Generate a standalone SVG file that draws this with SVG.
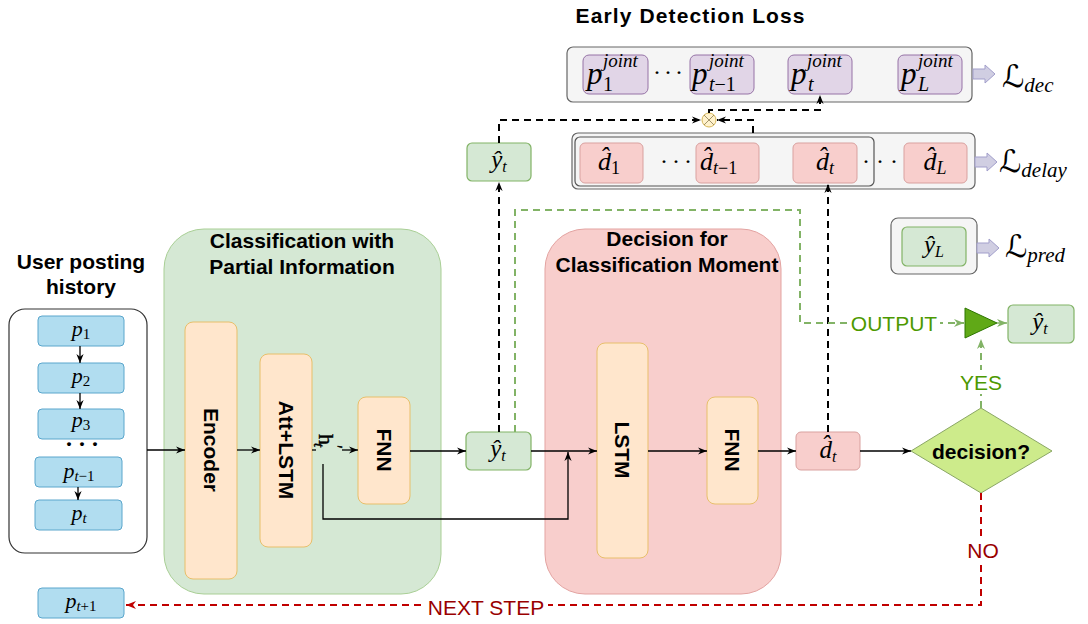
<svg xmlns="http://www.w3.org/2000/svg" width="1088" height="624" viewBox="0 0 1088 624">
  <defs>
    <style>
      .ttl{font-family:"Liberation Sans",Arial,Helvetica,sans-serif;font-weight:bold;font-size:21px;fill:#000;text-anchor:middle}
      .blk{font-family:"Liberation Sans",Arial,Helvetica,sans-serif;font-weight:bold;font-size:21px;fill:#000;text-anchor:middle;dominant-baseline:central}
      .math{font-family:"Liberation Serif","Times New Roman",serif;font-style:italic;fill:#000}
      .mc{text-anchor:middle}
      .rm{font-style:normal}
      .cal{font-family:"DejaVu Serif","DejaVu Sans",serif;font-style:normal}
      .dots{font-family:"Liberation Serif",serif;font-size:24px;fill:#000}
      .lbl{font-family:"Liberation Sans",Arial,Helvetica,sans-serif;font-size:21px;text-anchor:middle;dominant-baseline:central}
      .orange{fill:#ffe6cc;stroke:#e8bf6a;stroke-width:1}
      .blue{fill:#b1ddf0;stroke:#5aa6cc;stroke-width:1}
      .green{fill:#d5e8d4;stroke:#82b366;stroke-width:1.2}
      .red{fill:#f8cecc;stroke:#d9a19f;stroke-width:1}
      .purple{fill:#e1d5e7;stroke:#9673a6;stroke-width:1}
      .panel{fill:#f5f5f5;stroke:#666;stroke-width:1.2}
      .solid{fill:none;stroke:#000;stroke-width:1.3}
      .dash{fill:none;stroke:#000;stroke-width:2;stroke-dasharray:7 5}
      .gdash{fill:none;stroke:#82b366;stroke-width:2;stroke-dasharray:7 5}
      .rdash{fill:none;stroke:#c00000;stroke-width:2;stroke-dasharray:7 5}
      .lav{fill:#d0cee2;stroke:#a29fcb;stroke-width:1}
    </style>
    <marker id="ab" viewBox="0 0 10 10" refX="10" refY="5" markerWidth="9" markerHeight="9" markerUnits="userSpaceOnUse" orient="auto">
      <path d="M0,1 L10,5 L0,9 L3,5 Z" fill="#000"/>
    </marker>
    <marker id="ag" viewBox="0 0 10 10" refX="10" refY="5" markerWidth="10" markerHeight="10" markerUnits="userSpaceOnUse" orient="auto">
      <path d="M0,1 L10,5 L0,9 L3,5 Z" fill="#82b366"/>
    </marker>
    <marker id="ar" viewBox="0 0 10 10" refX="10" refY="5" markerWidth="10" markerHeight="10" markerUnits="userSpaceOnUse" orient="auto">
      <path d="M0,1 L10,5 L0,9 L3,5 Z" fill="#c00000"/>
    </marker>
  </defs>

  <rect width="1088" height="624" fill="#fff"/>

  <!-- containers -->
  <g id="panel-classification">
    <rect x="164" y="229" width="277" height="365" rx="40" fill="#d5e8d4" stroke="#a9cf95" stroke-width="1"/>
    <text class="ttl" x="302" y="248">Classification with</text>
    <text class="ttl" x="302" y="274">Partial Information</text>
  </g>
  <g id="panel-decision">
    <rect x="545" y="229" width="236" height="365" rx="40" fill="#f8cecc" stroke="#e3a3a1" stroke-width="1"/>
    <text class="ttl" x="667" y="246">Decision for</text>
    <text class="ttl" x="667" y="272">Classification Moment</text>
  </g>

  <!-- user posting history -->
  <g id="history">
    <text class="ttl" x="81" y="269">User posting</text>
    <text class="ttl" x="81" y="294">history</text>
    <rect x="9" y="309" width="138" height="244" rx="16" fill="#fff" stroke="#333" stroke-width="1.2"/>
    <g id="post-1"><rect class="blue" x="38" y="316" width="86" height="30" rx="4"/>
      <text class="math mc" x="81" y="336" font-size="22">p<tspan class="rm" font-size="15" dy="3">1</tspan></text></g>
    <g id="post-2"><rect class="blue" x="38" y="363" width="86" height="30" rx="4"/>
      <text class="math mc" x="81" y="383" font-size="22">p<tspan class="rm" font-size="15" dy="3">2</tspan></text></g>
    <g id="post-3"><rect class="blue" x="38" y="409" width="86" height="30" rx="4"/>
      <text class="math mc" x="81" y="427" font-size="22">p<tspan class="rm" font-size="15" dy="3">3</tspan></text></g>
    <text class="dots" x="65 78 91" y="452" font-size="14" font-weight="bold">···</text>
    <g id="post-t-1"><rect class="blue" x="35" y="457" width="87" height="30" rx="4"/>
      <text class="math mc" x="79" y="478" font-size="22">p<tspan font-size="15" dy="3">t</tspan><tspan class="rm" font-size="15">−1</tspan></text></g>
    <g id="post-t"><rect class="blue" x="35" y="500" width="87" height="30" rx="4"/>
      <text class="math mc" x="79" y="520" font-size="22">p<tspan font-size="15" dy="3">t</tspan></text></g>
  </g>
  <g id="post-next">
    <rect class="blue" x="38" y="588" width="86" height="30" rx="4"/>
    <text class="math mc" x="81" y="608" font-size="22">p<tspan font-size="15" dy="3">t</tspan><tspan class="rm" font-size="15">+1</tspan></text>
  </g>

  <!-- classification blocks -->
  <g id="encoder">
    <rect class="orange" x="185" y="322" width="52" height="257" rx="8"/>
    <text class="blk" transform="translate(211,450) rotate(90)">Encoder</text>
  </g>
  <g id="att-lstm">
    <rect class="orange" x="260" y="354" width="52" height="193" rx="8"/>
    <text class="blk" transform="translate(286,450) rotate(90)">Att+LSTM</text>
  </g>
  <g id="fnn-1">
    <rect class="orange" x="358" y="397" width="52" height="107" rx="8"/>
    <text class="blk" transform="translate(384,450) rotate(90)">FNN</text>
  </g>
  <g id="hidden-label">
    <text class="math" transform="translate(319,434) rotate(90)" font-size="22" stroke="#000" stroke-width="0.4"><tspan class="rm">h</tspan><tspan class="rm" font-size="18" dx="0" dy="-10">′</tspan><tspan font-size="15" dx="-6" dy="15">t</tspan></text>
  </g>
  <g id="y-hat">
    <rect class="green" x="466" y="432" width="65" height="38" rx="5"/>
    <text class="math mc" x="498" y="457" font-size="25">ŷ<tspan font-size="16" dy="4">t</tspan></text>
  </g>

  <!-- decision blocks -->
  <g id="lstm">
    <rect class="orange" x="597" y="343" width="51" height="215" rx="8"/>
    <text class="blk" transform="translate(622,450) rotate(90)">LSTM</text>
  </g>
  <g id="fnn-2">
    <rect class="orange" x="707" y="397" width="51" height="107" rx="8"/>
    <text class="blk" transform="translate(732,450) rotate(90)">FNN</text>
  </g>
  <g id="d-hat">
    <rect class="red" x="796" y="432" width="64" height="38" rx="5"/>
    <text class="math mc" x="828" y="458" font-size="25">d̂<tspan font-size="16" dy="4">t</tspan></text>
  </g>
  <g id="decision">
    <polygon points="911,451 981,408 1052,451 981,493" fill="#cdeb8b" stroke="#8aa665" stroke-width="1"/>
    <text class="blk" x="981" y="451">decision?</text>
  </g>
  <g id="gate">
    <polygon points="965,308 997,323 965,338" fill="#60a917" stroke="#2d7600" stroke-width="1"/>
  </g>
  <g id="y-hat-out">
    <rect class="green" x="1008" y="305" width="66" height="38" rx="5"/>
    <text class="math mc" x="1040" y="330" font-size="25">ŷ<tspan font-size="16" dy="4">t</tspan></text>
  </g>

  <!-- top: y-hat copy -->
  <g id="y-hat-top">
    <rect class="green" x="467" y="143" width="64" height="38" rx="5"/>
    <text class="math mc" x="499" y="168" font-size="25">ŷ<tspan font-size="16" dy="4">t</tspan></text>
  </g>

  <!-- early detection loss -->
  <g id="loss-title">
    <text class="ttl" x="690" y="23" font-size="22" textLength="229" lengthAdjust="spacing">Early Detection Loss</text>
  </g>
  <g id="loss-dec">
    <rect class="panel" x="567" y="47" width="405" height="55" rx="6"/>
    <g id="pj-1"><rect class="purple" x="583" y="55" width="65" height="39" rx="6"/>
      <text class="math" font-size="31" x="587" y="84">p</text>
      <text class="math" font-size="19" x="603" y="67">joint</text>
      <text class="math rm" font-size="20" x="603" y="91">1</text></g>
    <text class="dots" x="653 664 675" y="80">···</text>
    <g id="pj-t-1"><rect class="purple" x="690" y="55" width="64" height="39" rx="6"/>
      <text class="math" font-size="31" x="692" y="84">p</text>
      <text class="math" font-size="19" x="709" y="67">joint</text>
      <text class="math" font-size="20" x="709" y="91">t<tspan class="rm">−1</tspan></text></g>
    <g id="pj-t"><rect class="purple" x="788" y="55" width="64" height="39" rx="6"/>
      <text class="math" font-size="31" x="791" y="84">p</text>
      <text class="math" font-size="19" x="807" y="67">joint</text>
      <text class="math" font-size="20" x="808" y="91">t</text></g>
    <g id="pj-L"><rect class="purple" x="898" y="55" width="64" height="39" rx="6"/>
      <text class="math" font-size="31" x="901" y="84">p</text>
      <text class="math" font-size="19" x="918" y="67">joint</text>
      <text class="math" font-size="20" x="918" y="91">L</text></g>
    <polygon class="lav" points="973,69 985,69 985,65 995,74 985,83 985,79 973,79"/>
    <text class="math" x="1002" y="87" font-size="31"><tspan class="cal">ℒ</tspan><tspan font-size="21" dy="5">dec</tspan></text>
  </g>

  <g id="loss-delay">
    <rect class="panel" x="572" y="133" width="403" height="56" rx="6"/>
    <rect x="575" y="137" width="299" height="49" rx="5" fill="none" stroke="#555" stroke-width="1.2"/>
    <g id="dh-1"><rect class="red" x="580" y="143" width="63" height="40" rx="5"/>
      <text class="math" x="598" y="170" font-size="26">d̂<tspan class="rm" font-size="18" dy="4">1</tspan></text></g>
    <text class="dots" x="660 672 684" y="169">···</text>
    <g id="dh-t-1"><rect class="red" x="696" y="143" width="63" height="40" rx="5"/>
      <text class="math" x="700" y="170" font-size="26">d̂<tspan font-size="18" dy="4">t</tspan><tspan class="rm" font-size="18">−1</tspan></text></g>
    <g id="dh-t"><rect class="red" x="793" y="143" width="64" height="40" rx="5"/>
      <text class="math mc" x="825" y="170" font-size="26">d̂<tspan font-size="18" dy="4">t</tspan></text></g>
    <text class="dots" x="862 876 890" y="169">···</text>
    <g id="dh-L"><rect class="red" x="904" y="143" width="63" height="40" rx="5"/>
      <text class="math mc" x="935" y="170" font-size="26">d̂<tspan font-size="18" dy="4">L</tspan></text></g>
    <polygon class="lav" points="975,157 987,157 987,153 997,162 987,171 987,167 975,167"/>
    <text class="math" x="999" y="172" font-size="31"><tspan class="cal">ℒ</tspan><tspan font-size="21" dy="5">delay</tspan></text>
  </g>

  <g id="loss-pred">
    <rect class="panel" x="891" y="218" width="86" height="56" rx="7"/>
    <g id="y-hat-L"><rect class="green" x="902" y="227" width="64" height="39" rx="5"/>
      <text class="math mc" x="934" y="253" font-size="25">ŷ<tspan font-size="16" dy="4">L</tspan></text></g>
    <polygon class="lav" points="977,243 989,243 989,239 999,248 989,257 989,253 977,253"/>
    <text class="math" x="1005" y="257" font-size="31"><tspan class="cal">ℒ</tspan><tspan font-size="21" dy="5">pred</tspan></text>
  </g>

  <g id="multiply">
    <circle cx="709" cy="120" r="7" fill="#fff2cc" stroke="#d6b656" stroke-width="1"/>
    <path d="M704,115 L714,125 M714,115 L704,125" stroke="#8a7a50" stroke-width="0.8"/>
  </g>

  <!-- connectors -->
  <g id="connectors">
    <path class="solid" d="M80,346 V363" marker-end="url(#ab)"/>
    <path class="solid" d="M80,393 V409" marker-end="url(#ab)"/>
    <path class="solid" d="M78,487 V500" marker-end="url(#ab)"/>
    <path class="solid" d="M147,450 H185" marker-end="url(#ab)"/>
    <path class="solid" d="M237,450 H260" marker-end="url(#ab)"/>
    <path class="solid" d="M312,450 H316"/>
    <path class="solid" d="M342,450 H358" marker-end="url(#ab)"/>
    <path class="solid" d="M410,451 H466" marker-end="url(#ab)"/>
    <path class="solid" d="M531,451 H597" marker-end="url(#ab)"/>
    <path class="solid" d="M323,464 V519 H568 V452" marker-end="url(#ab)"/>
    <path class="solid" d="M648,451 H707" marker-end="url(#ab)"/>
    <path class="solid" d="M758,451 H796" marker-end="url(#ab)"/>
    <path class="solid" d="M860,451 H911" marker-end="url(#ab)"/>

    <path class="dash" d="M499,432 V182" marker-end="url(#ab)"/>
    <path class="dash" d="M499,143 V120 H701" marker-end="url(#ab)"/>
    <path class="dash" d="M753,133 V120 H717" marker-end="url(#ab)"/>
    <path class="dash" d="M709,113 V110 H820 V95" marker-end="url(#ab)"/>
    <path class="dash" d="M828,432 V184" marker-end="url(#ab)"/>

    <path class="gdash" d="M515,432 V210 H800 V323 H964" marker-end="url(#ag)"/>
    <rect x="848" y="311" width="92" height="24" fill="#fff"/>
    <text class="lbl" x="894" y="323" fill="#4d9900">OUTPUT</text>
    <path d="M997,323 H1007" stroke="#82b366" stroke-width="1.5" fill="none" marker-end="url(#ag)"/>
    <path class="gdash" d="M981,408 V339" marker-end="url(#ag)"/>
    <rect x="958" y="370" width="46" height="24" fill="#fff"/>
    <text class="lbl" x="981" y="382" fill="#4d9900">YES</text>

    <path class="rdash" d="M981,493 V605 H126" marker-end="url(#ar)"/>
    <rect x="966" y="538" width="34" height="24" fill="#fff"/>
    <text class="lbl" x="983" y="550" fill="#990000">NO</text>
    <rect x="424" y="595" width="124" height="24" fill="#fff"/>
    <text class="lbl" x="486" y="607" fill="#990000">NEXT STEP</text>
  </g>
</svg>
